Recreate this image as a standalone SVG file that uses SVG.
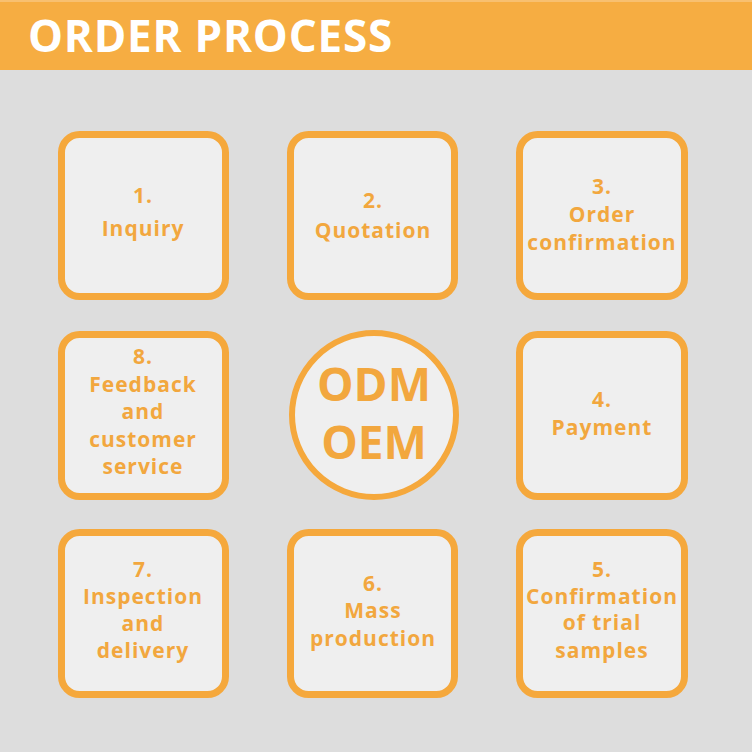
<svg xmlns="http://www.w3.org/2000/svg" width="752" height="752" viewBox="0 0 752 752">
<style>
.box{fill:#efefef;stroke:#f5a83c;stroke-width:7}
.t{font-family:"Open Sans","Liberation Sans",sans-serif;font-weight:700;font-size:21px;fill:#f2a73e;text-anchor:middle;letter-spacing:1px}
.big{font-family:"Open Sans","Liberation Sans",sans-serif;font-weight:700;font-size:46px;fill:#f2a73e;text-anchor:middle}
</style>
<rect x="0" y="0" width="752" height="752" fill="#dddddd"/>
<rect x="0" y="0" width="752" height="70" fill="#f6ad42"/>
<rect x="0" y="0" width="752" height="2" fill="#f8c070"/>
<text x="28" y="52" font-family="'Open Sans','Liberation Sans',sans-serif" font-weight="700" font-size="44" fill="#ffffff" letter-spacing="0.8">ORDER PROCESS</text>
<g id="n1"><rect class="box" x="61.5" y="134.5" width="164" height="162" rx="18"/><text class="t" x="143" y="203">1.</text><text class="t" x="143" y="236">Inquiry</text></g>
<g id="n2"><rect class="box" x="290.5" y="134.5" width="164" height="162" rx="18"/><text class="t" x="373" y="208">2.</text><text class="t" x="373" y="238">Quotation</text></g>
<g id="n3"><rect class="box" x="519.5" y="134.5" width="165" height="162" rx="18"/><text class="t" x="602" y="194">3.</text><text class="t" x="602" y="222">Order</text><text class="t" x="602" y="250">confirmation</text></g>
<g id="n8"><rect class="box" x="61.5" y="334.5" width="164" height="162" rx="18"/><text class="t" x="143" y="364">8.</text><text class="t" x="143" y="392">Feedback</text><text class="t" x="143" y="419">and</text><text class="t" x="143" y="447">customer</text><text class="t" x="143" y="474">service</text></g>
<g id="center"><circle cx="374" cy="415" r="82" fill="#efefef" stroke="#f5a83c" stroke-width="6"/><text class="big" x="374" y="401">ODM</text><text class="big" x="374" y="459">OEM</text></g>
<g id="n4"><rect class="box" x="519.5" y="334.5" width="165" height="162" rx="18"/><text class="t" x="602" y="407">4.</text><text class="t" x="602" y="435">Payment</text></g>
<g id="n7"><rect class="box" x="61.5" y="532.5" width="164" height="162" rx="18"/><text class="t" x="143" y="577">7.</text><text class="t" x="143" y="604">Inspection</text><text class="t" x="143" y="631">and</text><text class="t" x="143" y="658">delivery</text></g>
<g id="n6"><rect class="box" x="290.5" y="532.5" width="164" height="162" rx="18"/><text class="t" x="373" y="591">6.</text><text class="t" x="373" y="618">Mass</text><text class="t" x="373" y="646">production</text></g>
<g id="n5"><rect class="box" x="519.5" y="532.5" width="165" height="162" rx="18"/><text class="t" x="602" y="577">5.</text><text class="t" x="602" y="604">Confirmation</text><text class="t" x="602" y="630">of trial</text><text class="t" x="602" y="658">samples</text></g>
<g id="connectors"></g>
</svg>
